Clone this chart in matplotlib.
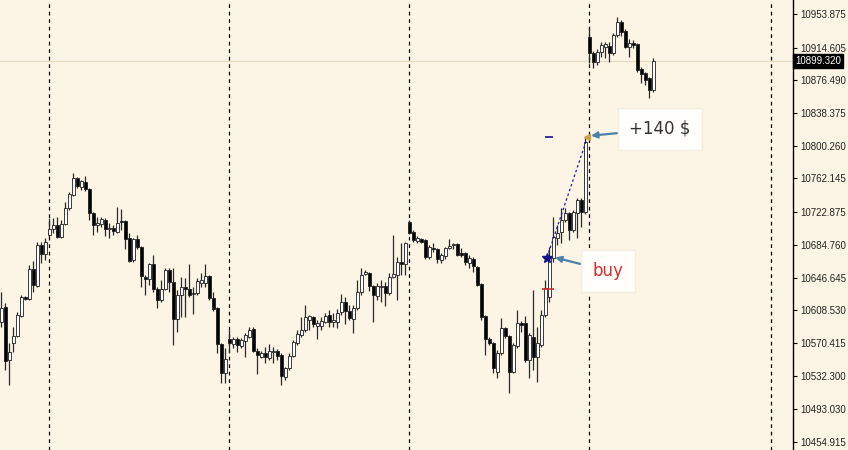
import matplotlib
matplotlib.use("Agg")
import matplotlib.pyplot as plt
import numpy as np

# OHLC (one bar every 4 px, oldest first)
opens = [10595, 10612, 10551, 10570, 10578, 10602, 10624, 10622, 10657, 10637,
         10685, 10674, 10696, 10703, 10708, 10694, 10709, 10728, 10743, 10763,
         10752, 10758, 10750, 10722, 10708, 10709, 10714, 10703, 10704, 10700,
         10713, 10713, 10693, 10667, 10692, 10682, 10647, 10645, 10662, 10633,
         10620, 10633, 10655, 10641, 10598, 10626, 10636, 10633, 10627, 10629,
         10640, 10640, 10648, 10623, 10611, 10569, 10535, 10575, 10569, 10575,
         10567, 10573, 10577, 10587, 10561, 10554, 10559, 10553, 10560, 10561,
         10556, 10531, 10541, 10555, 10570, 10580, 10585, 10597, 10601, 10590,
         10590, 10595, 10603, 10595, 10595, 10606, 10618, 10608, 10598, 10611,
         10630, 10651, 10652, 10637, 10625, 10636, 10637, 10629, 10647, 10650,
         10665, 10662, 10711, 10700, 10689, 10692, 10690, 10671, 10681, 10680,
         10667, 10672, 10681, 10685, 10686, 10675, 10675, 10664, 10668, 10659,
         10639, 10602, 10575, 10570, 10537, 10559, 10588, 10578, 10537, 10567,
         10594, 10594, 10551, 10577, 10554, 10568, 10603, 10624, 10669, 10693,
         10700, 10714, 10722, 10702, 10722, 10737, 10723, 10927, 10908, 10898,
         10910, 10915, 10917, 10908, 10929, 10945, 10934, 10915, 10920, 10919,
         10890, 10885, 10879, 10865]
highs = [10630, 10617, 10570, 10589, 10606, 10626, 10625, 10661, 10666, 10688,
         10688, 10693, 10716, 10716, 10717, 10714, 10735, 10746, 10769, 10764,
         10760, 10765, 10751, 10723, 10717, 10717, 10716, 10710, 10708, 10729,
         10727, 10714, 10699, 10693, 10696, 10683, 10650, 10664, 10673, 10636,
         10644, 10658, 10658, 10658, 10632, 10647, 10646, 10662, 10636, 10646,
         10652, 10662, 10650, 10630, 10612, 10570, 10564, 10585, 10577, 10577,
         10576, 10582, 10589, 10589, 10564, 10561, 10566, 10569, 10566, 10563,
         10559, 10542, 10559, 10574, 10585, 10601, 10615, 10603, 10602, 10597,
         10601, 10605, 10609, 10605, 10610, 10627, 10624, 10615, 10615, 10644,
         10658, 10655, 10653, 10638, 10640, 10644, 10641, 10652, 10696, 10671,
         10687, 10688, 10714, 10702, 10695, 10693, 10692, 10685, 10687, 10681,
         10675, 10682, 10692, 10687, 10687, 10681, 10676, 10673, 10671, 10660,
         10640, 10603, 10577, 10571, 10562, 10599, 10589, 10580, 10570, 10609,
         10596, 10602, 10582, 10632, 10589, 10609, 10644, 10682, 10717, 10708,
         10728, 10728, 10723, 10725, 10739, 10739, 10809, 10939, 10911, 10913,
         10921, 10921, 10921, 10932, 10950, 10947, 10936, 10925, 10924, 10920,
         10892, 10886, 10880, 10903]
lows = [10589, 10539, 10521, 10560, 10577, 10601, 10620, 10620, 10630, 10636,
        10664, 10667, 10694, 10699, 10693, 10693, 10708, 10725, 10742, 10751,
        10749, 10748, 10714, 10696, 10700, 10706, 10695, 10693, 10696, 10699,
        10702, 10680, 10665, 10665, 10680, 10636, 10626, 10638, 10630, 10611,
        10618, 10632, 10630, 10568, 10583, 10601, 10601, 10624, 10604, 10626,
        10636, 10636, 10620, 10608, 10559, 10524, 10524, 10559, 10564, 10560,
        10564, 10554, 10576, 10560, 10534, 10553, 10547, 10551, 10547, 10551,
        10521, 10527, 10539, 10554, 10568, 10577, 10583, 10585, 10589, 10575,
        10585, 10594, 10589, 10589, 10588, 10603, 10592, 10597, 10582, 10609,
        10626, 10650, 10631, 10595, 10620, 10618, 10613, 10626, 10646, 10620,
        10650, 10650, 10697, 10688, 10687, 10687, 10668, 10668, 10676, 10664,
        10664, 10668, 10680, 10680, 10672, 10671, 10661, 10658, 10653, 10637,
        10597, 10556, 10568, 10535, 10530, 10556, 10576, 10512, 10535, 10564,
        10583, 10548, 10530, 10539, 10525, 10566, 10601, 10618, 10665, 10685,
        10687, 10711, 10690, 10700, 10693, 10706, 10721, 10897, 10891, 10894,
        10904, 10903, 10898, 10906, 10927, 10928, 10914, 10904, 10914, 10886,
        10873, 10871, 10856, 10863]
closes = [10611, 10549, 10560, 10578, 10603, 10624, 10622, 10657, 10638, 10685,
          10674, 10688, 10703, 10708, 10694, 10709, 10728, 10744, 10763, 10753,
          10759, 10750, 10722, 10708, 10710, 10715, 10703, 10704, 10701, 10710,
          10711, 10692, 10666, 10692, 10682, 10648, 10645, 10662, 10633, 10620,
          10633, 10655, 10641, 10598, 10626, 10636, 10633, 10626, 10629, 10643,
          10644, 10648, 10623, 10610, 10569, 10535, 10552, 10570, 10575, 10568,
          10574, 10580, 10585, 10561, 10556, 10559, 10554, 10561, 10561, 10555,
          10532, 10541, 10555, 10571, 10581, 10585, 10601, 10602, 10592, 10594,
          10596, 10602, 10595, 10597, 10605, 10618, 10608, 10599, 10611, 10630,
          10650, 10653, 10637, 10626, 10637, 10637, 10629, 10647, 10651, 10665,
          10662, 10687, 10699, 10690, 10693, 10688, 10671, 10682, 10680, 10668,
          10673, 10681, 10683, 10686, 10673, 10673, 10665, 10669, 10660, 10638,
          10601, 10575, 10570, 10541, 10559, 10588, 10578, 10537, 10568, 10594,
          10591, 10551, 10580, 10554, 10570, 10603, 10634, 10669, 10694, 10699,
          10714, 10722, 10702, 10723, 10737, 10723, 10805, 10908, 10898, 10910,
          10918, 10919, 10908, 10929, 10945, 10933, 10915, 10920, 10918, 10889,
          10884, 10877, 10865, 10899.32]

price_ticks = [10953.875, 10914.605, 10876.490, 10838.375, 10800.260, 10762.145,
               10722.875, 10684.760, 10646.645, 10608.530, 10570.415, 10532.300,
               10493.030, 10454.915]
day_breaks = [12, 57, 102, 147, 192.5]

# the trade
buy_bar = 137
close_bar = 146
buy_price = 10670
close_price = 10810
stop_price = 10633
profit_text = "+140 $"

bg = "#fcf5e5"
W, H = 848, 450
plot_w = 793
axis_font = "Liberation Sans"

fig = plt.figure(figsize=(W / 100, H / 100), dpi=100, facecolor=bg)
ax = fig.add_axes([0, 0, plot_w / W, 1])
ax.set_facecolor(bg)

o = np.array(opens, dtype=float)
h = np.array(highs, dtype=float)
l = np.array(lows, dtype=float)
c = np.array(closes, dtype=float)
idx = np.arange(len(o))
up = c >= o

ax.vlines(idx, l, h, color="#2a2a2a", lw=0.9, zorder=2)
body_lo = np.minimum(o, c)
body_h = np.maximum(np.abs(c - o), 0.6)
ax.bar(idx, body_h, bottom=body_lo, width=0.75,
       color=np.where(up, "white", "black"), edgecolor="#1e1e1e",
       linewidth=0.6, zorder=3)

# day separators and last price line
for d in day_breaks:
    ax.axvline(d, color="black", lw=0.9, ls=(0, (3, 3)), zorder=1)
ax.axhline(closes[-1], color="#eadcc2", lw=1, zorder=0.5)

# trade markers
ax.plot([buy_bar - 0.5, close_bar + 0.6], [buy_price, close_price],
        color="#1c1c9c", lw=0.9, ls=(0, (2, 2)), zorder=4)
ax.plot(buy_bar - 0.5, buy_price, marker="*", ms=7, color="#14148a", zorder=5)
ax.plot(buy_bar, close_price, marker="_", ms=6, mew=1.2, color="#14148a", zorder=5)
ax.plot(buy_bar - 0.3, stop_price, marker="_", ms=8, mew=1.2, color="#cc3030", zorder=5)
ax.plot(close_bar + 0.6, close_price, marker="<", ms=4.5, color="#c8a048", zorder=5)

box = dict(boxstyle="square,pad=0.7", fc="#fffefb", ec="#f4ede0", lw=1)
arrow = dict(arrowstyle="-|>", color="#4d80ab", lw=1.6, mutation_scale=9,
             shrinkA=0, shrinkB=0)
ax.annotate(profit_text, xy=(close_bar + 1.5, close_price + 2),
            xytext=(660 / plot_w, 1 - 129 / H), textcoords="axes fraction",
            ha="center", va="center", fontsize=12, color="#333333",
            bbox=box, arrowprops=arrow, zorder=6)
ax.annotate("buy", xy=(buy_bar + 1.5, buy_price),
            xytext=(608 / plot_w, 1 - 271 / H), textcoords="axes fraction",
            ha="center", va="center", fontsize=12, color="#d03030",
            bbox=box, arrowprops=arrow, zorder=6)

ax.set_xlim(-0.25, (plot_w - 1) / 4)
ax.set_ylim(10445.6, 10970.2)

for s in ["left", "top", "bottom"]:
    ax.spines[s].set_visible(False)
ax.spines["right"].set_color("black")
ax.spines["right"].set_linewidth(1)
ax.set_xticks([])
ax.yaxis.tick_right()
ax.set_yticks(price_ticks)
ax.set_yticklabels(["%.3f" % v for v in price_ticks], family=axis_font)
ax.tick_params(axis="y", direction="out", length=3, width=0.8, pad=2,
               labelsize=7, colors="black", labelcolor="#222222")

ax.text(1 + 2 / plot_w, closes[-1], "%.3f" % closes[-1],
        transform=ax.get_yaxis_transform(), ha="left", va="center",
        fontsize=7, color="white", family=axis_font,
        bbox=dict(boxstyle="square,pad=0.2", fc="black", ec="black"))

fig.savefig("out.png", dpi=100, facecolor=bg)
